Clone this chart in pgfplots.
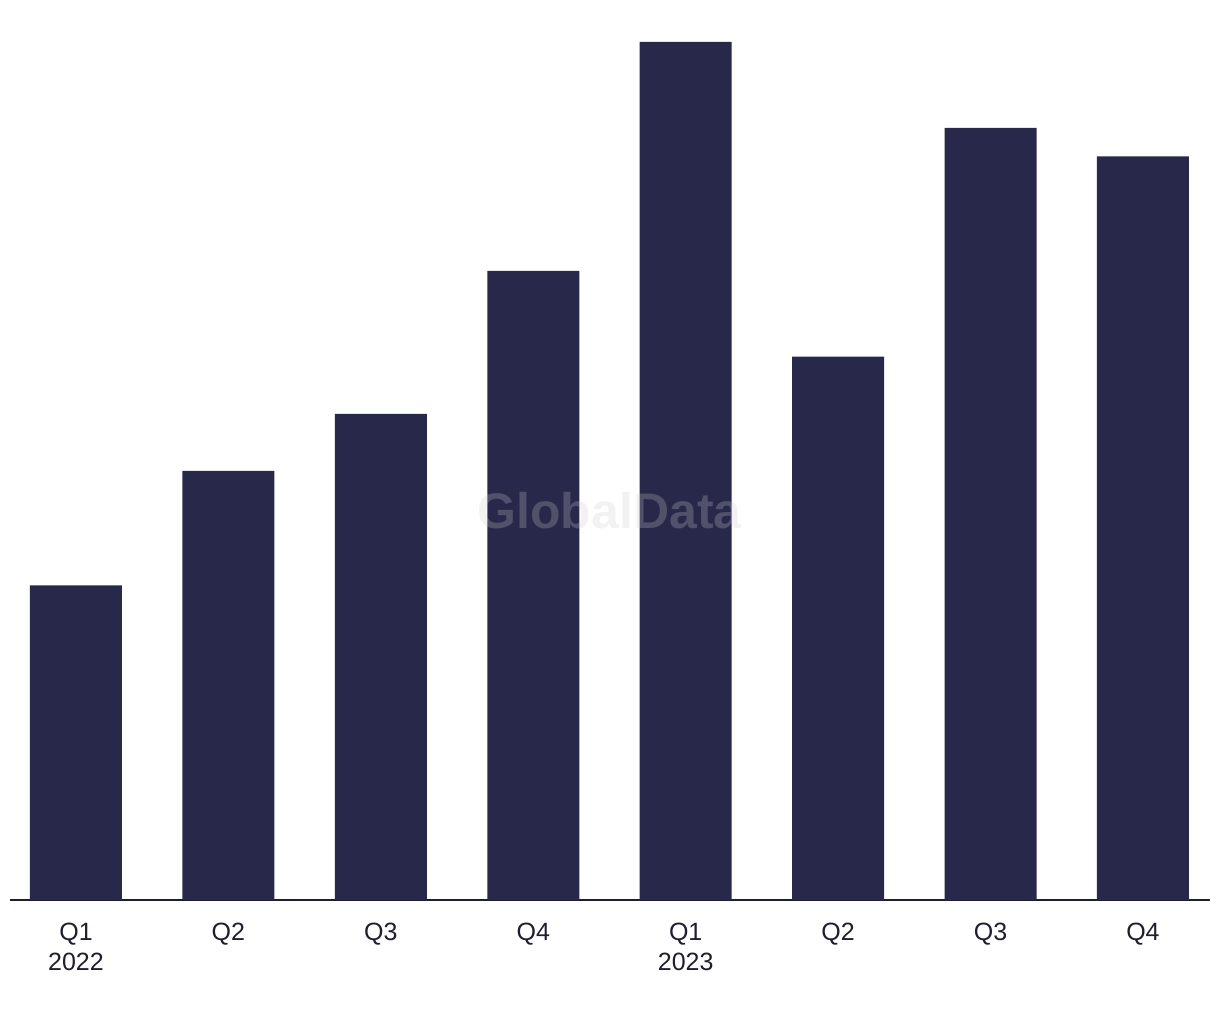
\documentclass[border=0pt]{standalone}
\usepackage{pgfplots}
\pgfplotsset{compat=1.18}
\usepackage{fontspec}
\setmainfont{Liberation Sans}
\definecolor{barc}{HTML}{28284B}
\definecolor{txt}{HTML}{1E1E2E}
\begin{document}
\begin{tikzpicture}
\path[use as bounding box] (-5pt,-60pt) rectangle (605pt,450pt);
\begin{axis}[
  at={(0,0)}, anchor=south west,
  scale only axis,
  width=600pt, height=429pt,
  xmin=-0.433, xmax=7.44,
  ymin=0, ymax=30,
  axis x line=bottom,
  axis y line=none,
  axis line style={-, txt, line width=1pt},
  xtick={0,...,7},
  xticklabels={Q1\\2022,Q2,Q3,Q4,Q1\\2023,Q2,Q3,Q4},
  xticklabel style={align=center, font=\fontsize{12.5}{15}\selectfont, text=txt, yshift=-8pt},
  major tick length=0pt,
  ytick=\empty,
  clip=false,
]
\addplot[ybar, bar width=46pt, fill=barc, draw=none] coordinates {
(0,11) (1,15) (2,17) (3,22) (4,30) (5,19) (6,27) (7,26)
};
\node[font=\fontsize{25}{25}\bfseries, text=gray!40, opacity=0.25] at (axis cs:3.5,13.6) {GlobalData};
\end{axis}
\end{tikzpicture}
\end{document}
